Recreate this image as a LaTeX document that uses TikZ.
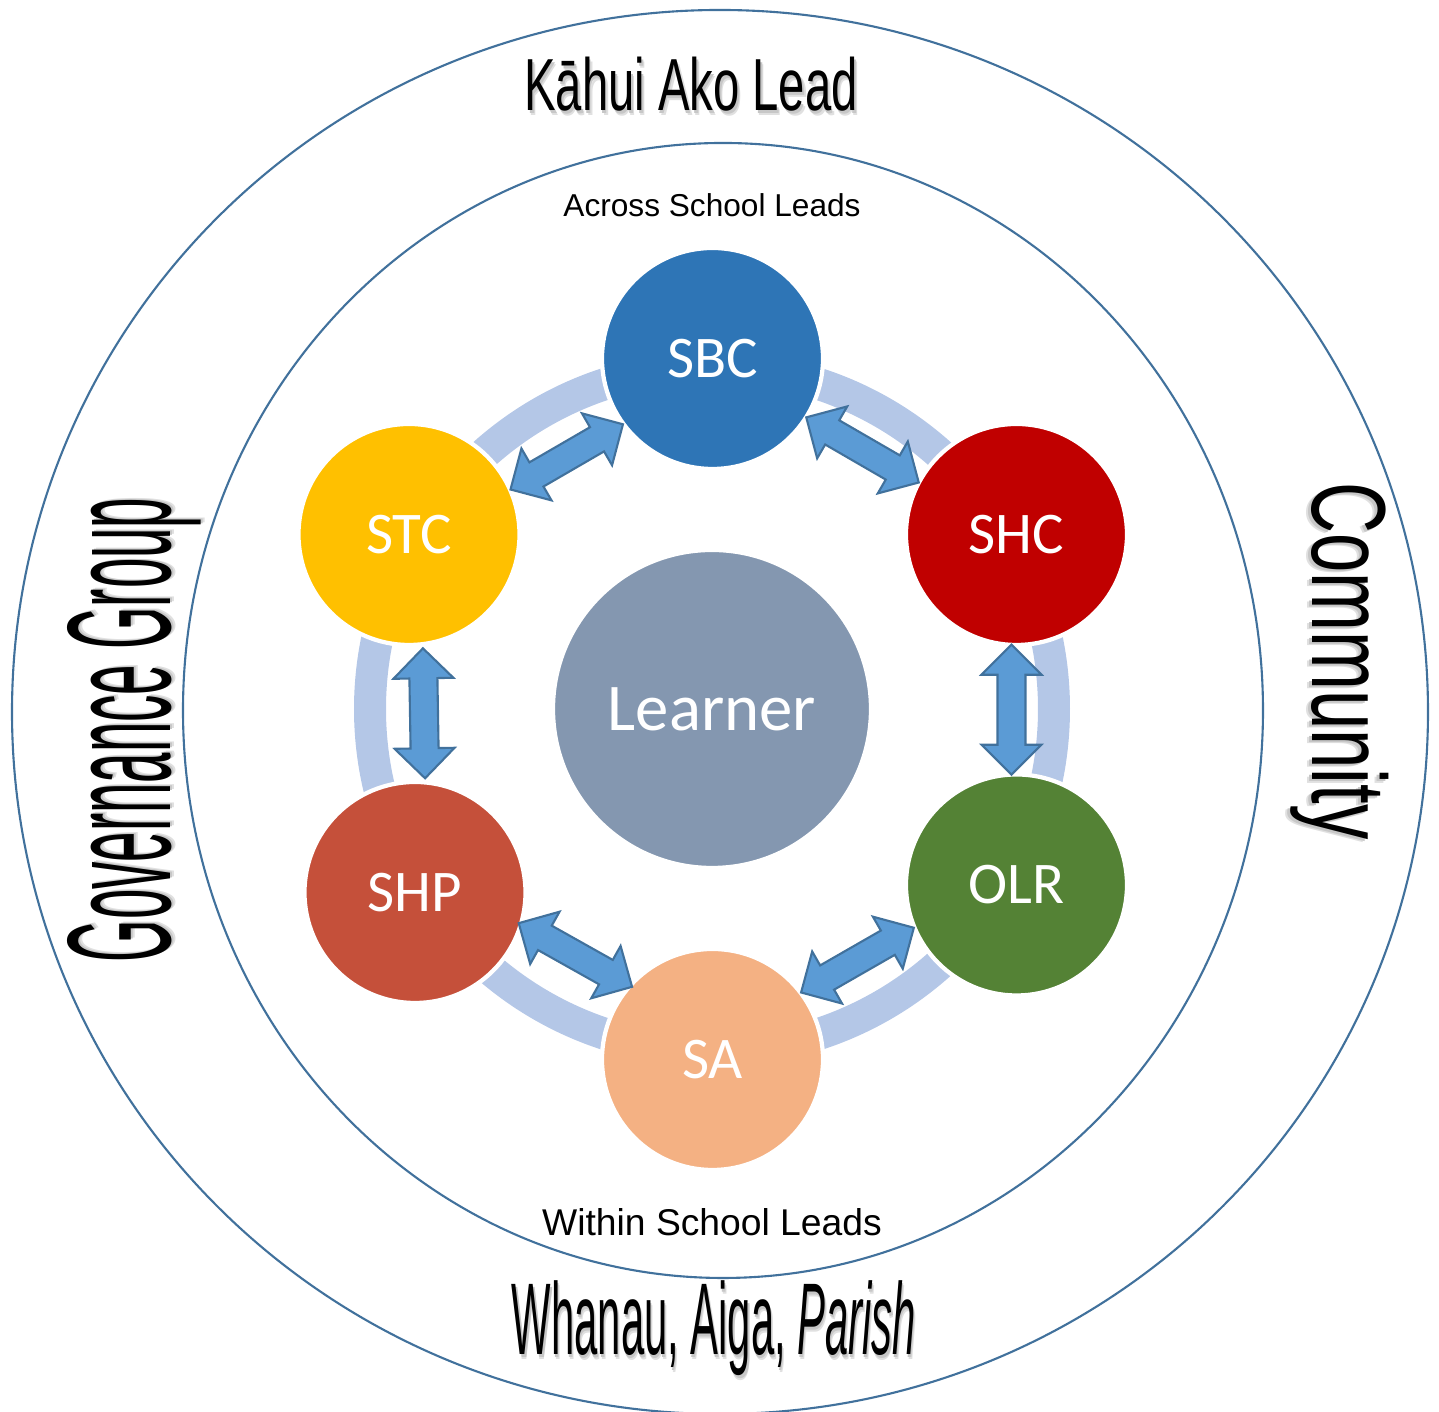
\documentclass[tikz,border=0pt]{standalone}
\usepackage{fontspec}
\setmainfont{Liberation Sans}
\newfontfamily\calibri{Carlito}
\usetikzlibrary{calc}

\definecolor{rimblue}{RGB}{65,113,156}
\definecolor{ringblue}{RGB}{180,199,231}
\definecolor{arrowblue}{RGB}{91,155,213}
\definecolor{sbcblue}{RGB}{46,117,182}
\definecolor{stcyellow}{RGB}{255,192,0}
\definecolor{shcred}{RGB}{192,0,0}
\definecolor{shporange}{RGB}{197,80,58}
\definecolor{olrgreen}{RGB}{84,130,53}
\definecolor{sapeach}{RGB}{244,177,131}
\definecolor{learnergrey}{RGB}{132,151,176}

\newcommand{\shadowed}[1]{\makebox[0pt][l]{\kern1.4pt\raisebox{-1.4pt}{\color{black!12}#1}}%
  \makebox[0pt][l]{\kern0.8pt\raisebox{-0.8pt}{\color{black!22}#1}}#1}
\newcommand{\wordart}[2]{\scalebox{#1}[1]{\shadowed{#2}}}

\tikzset{
  rim/.style={draw=rimblue, line width=0.6pt},
  ring/.style={draw=ringblue, line width=0.32cm},
  member/.style={circle, minimum size=2.21cm, inner sep=0pt, draw=white, line width=1.2pt,
    text=white, font=\calibri\fontsize{16.8}{20}\selectfont},
  linkarrow/.style={draw=rimblue, fill=arrowblue, line width=0.6pt, line join=miter},
  link/.pic={\draw[linkarrow] (-0.65,0) -- (-0.35,0.30) -- (-0.35,0.14) -- (0.35,0.14) -- (0.35,0.30)
    -- (0.65,0) -- (0.35,-0.30) -- (0.35,-0.14) -- (-0.35,-0.14) -- (-0.35,-0.30) -- cycle;},
}

\begin{document}
\begin{tikzpicture}
            \useasboundingbox (0,0) rectangle (14.39,14.12);
            \draw[rim] (7.20,7.00) ellipse [x radius=7.08, y radius=7.02];
            \draw[rim] (7.23,7.015) ellipse [x radius=5.40, y radius=5.675];
            \coordinate (hub) at (7.12,7.03);
            \draw[ring] (hub) circle (3.42);

            \node[member, minimum size=3.18cm, fill=learnergrey,
                  font=\calibri\fontsize{19}{23}\selectfont] (L) at (hub) {Learner};
            \node[member, fill=sbcblue] (SBC) at (7.125,10.535) {SBC};
            \node[member, fill=stcyellow] (STC) at (4.09,8.775) {STC};
            \node[member, fill=shcred] (SHC) at (10.165,8.775) {SHC};
            \node[member, fill=shporange] (SHP) at (4.15,5.195) {SHP};
            \node[member, fill=olrgreen] (OLR) at (10.165,5.27) {OLR};
            \node[member, fill=sapeach] (SA) at (7.125,3.525) {SA};

            \foreach \a/\b/\d in {STC/SBC/0.12cm, SBC/SHC/0.04cm, SHC/OLR/0.05cm,
                                  OLR/SA/0.14cm, SA/SHP/0.24cm, SHP/STC/0.12cm}
              \path let \p1=($(\b)-(\a)$), \n1={atan2(\y1,\x1)} in
                ($($(\a)!0.5!(\b)$)!\d!(hub)$) pic[rotate=\n1] {link};

            \node[font=\fontsize{9}{11}\selectfont] (across) at (7.12,12.07) {Across School Leads};
            \node[font=\fontsize{10.6}{13}\selectfont] (within) at (7.12,1.90) {Within School Leads};
            \node[anchor=base, font=\fontsize{21}{25}\selectfont] (lead) at (6.91,13.01)
              {\wordart{0.64}{Kāhui Ako Lead}};
            \node[anchor=base, rotate=90, font=\fontsize{42}{50}\selectfont] (gov) at (1.70,6.82)
              {\wordart{0.37}{Governance Group}};
            \node[anchor=base, rotate=-90, font=\fontsize{30}{36}\selectfont] (comm) at (13.12,7.51)
              {\wordart{0.67}{Community}};
            \node[anchor=base, font=\fontsize{29}{35}\selectfont] (family) at (7.14,0.57)
              {\wordart{0.41}{Whanau, Aiga, \textit{Parish}}};
        \end{tikzpicture}
\end{document}
